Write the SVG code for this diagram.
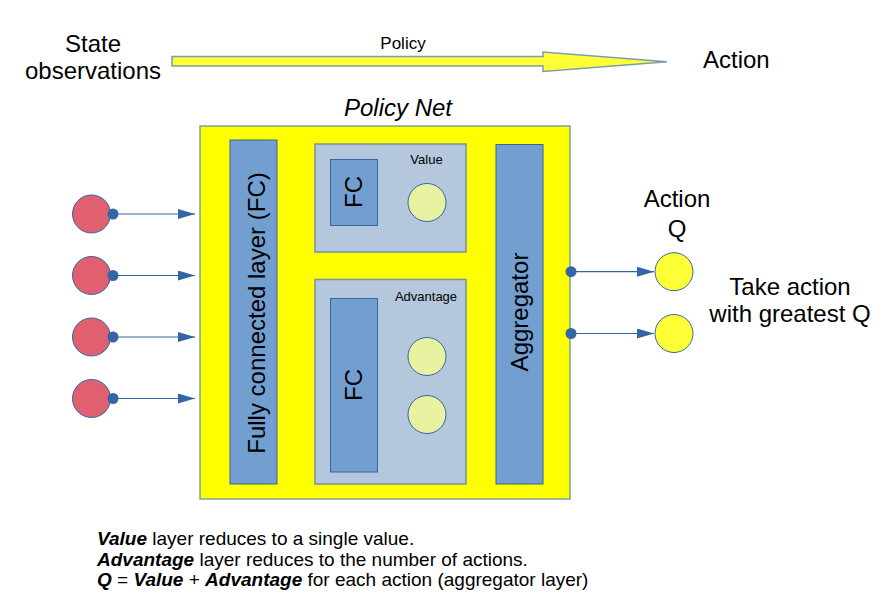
<svg xmlns="http://www.w3.org/2000/svg" width="891" height="603" viewBox="0 0 891 603">
<defs>
<style>
text{font-family:"Liberation Sans",Arial,sans-serif;fill:#000}
.big{font-size:24px}
.mid{font-size:17px}
.small{font-size:13px}
.note{font-size:19px}
.layer{fill:#729fcf;stroke:#3465a4;stroke-width:1}
.sub{fill:#b4c7dc;stroke:#7f8f9f;stroke-width:1.5}
.unit{fill:#e8f2a1;stroke:#3465a4;stroke-width:1}
.inp{fill:#e06070;stroke:#3465a4;stroke-width:1}
.out{fill:#ffff38;stroke:#3465a4;stroke-width:1}
.conn{stroke:#3465a4;stroke-width:1.2;fill:none;marker-end:url(#ah)}
.dot{fill:#3465a4}
</style>
<marker id="ah" markerUnits="userSpaceOnUse" markerWidth="18" markerHeight="12" refX="17" refY="5" orient="auto">
<polygon points="0,0 17,5 0,10" fill="#3465a4"/>
</marker>
</defs>

<g id="top-labels">
<text class="big" x="93" y="52" text-anchor="middle">State</text>
<text class="big" x="93" y="79" text-anchor="middle">observations</text>
<text class="mid" x="403" y="49" text-anchor="middle">Policy</text>
<text class="big" x="703" y="68">Action</text>
</g>

<g id="policy-arrow">
<polygon points="172,56.5 543,56.5 543,52 667,61.7 543,71.5 543,66 172,66" fill="#ffff38" stroke="#7a9cb0" stroke-width="1.5"/>
</g>

<g id="policy-net">
<text class="big" x="398" y="116" text-anchor="middle" font-style="italic">Policy Net</text>
<rect x="200" y="126" width="370" height="373" fill="#ffff00" stroke="#7f9f9f" stroke-width="1.5"/>
</g>

<g id="fc-layer">
<rect class="layer" x="230" y="140" width="47" height="344"/>
<text class="big" transform="translate(265,313) rotate(-90)" text-anchor="middle">Fully connected layer (FC)</text>
</g>

<g id="value">
<rect class="sub" x="315" y="144" width="151" height="108"/>
<text class="small" x="426.5" y="164" text-anchor="middle">Value</text>
<rect class="layer" x="330.5" y="159.5" width="47" height="66"/>
<text class="big" transform="translate(362,192) rotate(-90)" text-anchor="middle">FC</text>
<circle class="unit" cx="427" cy="202.5" r="19"/>
</g>

<g id="advantage">
<rect class="sub" x="315" y="279.5" width="151" height="204.5"/>
<text class="small" x="426" y="300.5" text-anchor="middle">Advantage</text>
<rect class="layer" x="330.5" y="298.5" width="47" height="173.5"/>
<text class="big" transform="translate(362,385) rotate(-90)" text-anchor="middle">FC</text>
<circle class="unit" cx="427" cy="356.5" r="19"/>
<circle class="unit" cx="427" cy="414.5" r="19"/>
</g>

<g id="aggregator">
<rect class="layer" x="496" y="144.5" width="47" height="339.5"/>
<text class="big" transform="translate(528,312) rotate(-90)" text-anchor="middle">Aggregator</text>
</g>

<g id="inputs">
<circle class="inp" cx="91.5" cy="214" r="19"/>
<circle class="inp" cx="91.5" cy="275.5" r="19"/>
<circle class="inp" cx="91.5" cy="337" r="19"/>
<circle class="inp" cx="91.5" cy="398.5" r="19"/>
</g>

<g id="outputs">
<text class="big" x="677" y="207" text-anchor="middle">Action</text>
<text class="big" x="677" y="237" text-anchor="middle">Q</text>
<circle class="out" cx="674" cy="271.7" r="19"/>
<circle class="out" cx="674" cy="333.5" r="19"/>
<text class="big" x="790" y="295" text-anchor="middle">Take action</text>
<text class="big" x="790" y="322" text-anchor="middle">with greatest Q</text>
</g>

<g id="connectors">
<line class="conn" x1="113" y1="214" x2="195" y2="214"/>
<line class="conn" x1="113" y1="275.5" x2="195" y2="275.5"/>
<line class="conn" x1="113" y1="337" x2="195" y2="337"/>
<line class="conn" x1="113" y1="398.5" x2="195" y2="398.5"/>
<circle class="dot" cx="113" cy="214" r="5.5"/>
<circle class="dot" cx="113" cy="275.5" r="5.5"/>
<circle class="dot" cx="113" cy="337" r="5.5"/>
<circle class="dot" cx="113" cy="398.5" r="5.5"/>
<line class="conn" x1="571" y1="271.7" x2="654" y2="271.7"/>
<line class="conn" x1="571" y1="333.5" x2="654" y2="333.5"/>
<circle class="dot" cx="571" cy="271.7" r="5.5"/>
<circle class="dot" cx="571" cy="333.5" r="5.5"/>
</g>

<g id="notes">
<text class="note" x="97" y="545"><tspan font-weight="bold" font-style="italic">Value</tspan> layer reduces to a single value.</text>
<text class="note" x="97" y="565.5"><tspan font-weight="bold" font-style="italic">Advantage</tspan> layer reduces to the number of actions.</text>
<text class="note" x="97" y="586"><tspan font-weight="bold" font-style="italic">Q</tspan> = <tspan font-weight="bold" font-style="italic">Value</tspan> + <tspan font-weight="bold" font-style="italic">Advantage</tspan> for each action (aggregator layer)</text>
</g>
</svg>
